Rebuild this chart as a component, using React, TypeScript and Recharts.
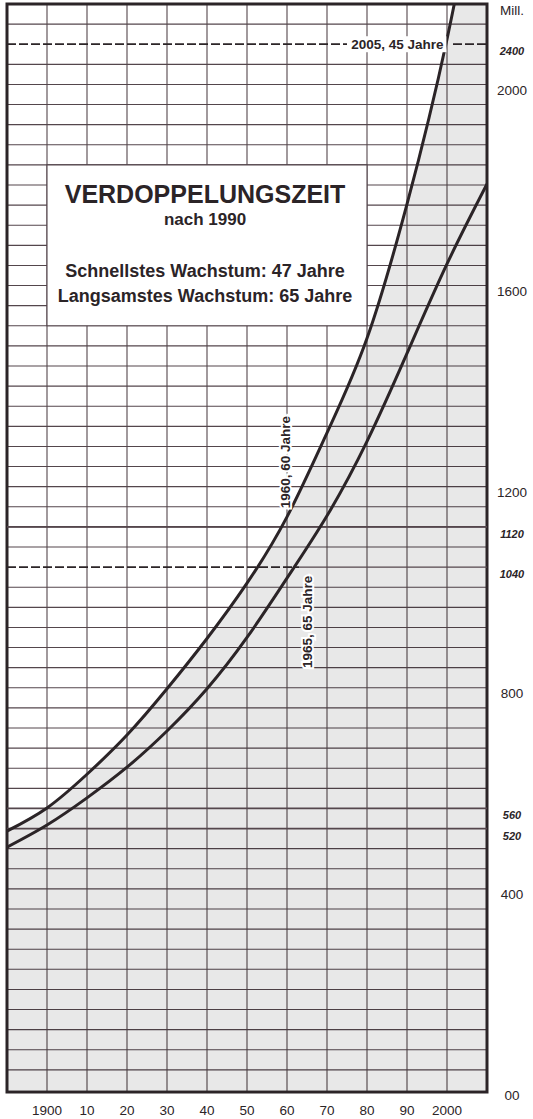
import React from 'react';
import {
  ComposedChart,
  Area,
  Line,
  XAxis,
  YAxis,
  CartesianGrid,
  ReferenceLine,
  ReferenceArea,
  ReferenceDot,
} from 'recharts';

// Weltbevölkerung (Mill.) – zwei Wachstumskurven
const years = [1890, 1900, 1910, 1920, 1930, 1940, 1950, 1960, 1970, 1980, 1990, 2000, 2010];
const fastest = [515, 561, 628, 706, 798, 898, 1008, 1140, 1307, 1495, 1762, 2090, 2500];
const slowest = [483, 527, 581, 642, 714, 798, 900, 1018, 1142, 1290, 1465, 1643, 1802];

const xTicks = [1900, 1910, 1920, 1930, 1940, 1950, 1960, 1970, 1980, 1990, 2000];
const xTickLabels = ['1900', '10', '20', '30', '40', '50', '60', '70', '80', '90', '2000'];

const yTicks = [0, 400, 800, 1200, 1600, 2000, 2160];
const yTickLabels = ['00', '400', '800', '1200', '1600', '2000', 'Mill.'];

// kursive Markierungen rechts
const markValues = [520, 560, 1040, 1120, 2080];
const markLabels = ['520', '560', '1040', '1120', '2400'];

const data = years.map((year, i) => ({ year, fastest: fastest[i], slowest: slowest[i] }));

const INK = '#2b2427';
const GRID = '#54464c';
const FONT = "'Liberation Sans', Arial, Helvetica, sans-serif";

const gridRows = Array.from({ length: 53 }, (_, i) => (i + 1) * 40).filter(
  (v) => v !== 1040 && v !== 2080
);

const XTick = ({ x, y, payload }: any) => {
  const i = xTicks.indexOf(payload.value);
  return (
    <text x={x} y={y + 23} textAnchor="middle" fontSize={13.5} fontFamily={FONT} fill={INK}>
      {xTickLabels[i]}
    </text>
  );
};

const YTick = ({ x, y, payload }: any) => {
  const v = payload.value;
  const mi = markValues.indexOf(v);
  if (mi >= 0) {
    return (
      <text x={x + 25} y={y + 11} textAnchor="middle" fontSize={11} fontStyle="italic"
        fontWeight="bold" fontFamily={FONT} fill={INK}>
        {markLabels[mi]}
      </text>
    );
  }
  const i = yTicks.indexOf(v);
  return (
    <text x={x + 25} y={y + 10.5} textAnchor="middle" fontSize={13.5} fontFamily={FONT} fill={INK}>
      {yTickLabels[i]}
    </text>
  );
};

const BoxText = ({ viewBox }: any) => {
  const cx = viewBox.x + viewBox.width / 2 - 2;
  const top = viewBox.y;
  const common = { textAnchor: 'middle' as const, fontFamily: FONT, fontWeight: 'bold' as const, fill: INK };
  return (
    <g>
      <text x={cx} y={top + 38} fontSize={25} {...common}>VERDOPPELUNGSZEIT</text>
      <text x={cx} y={top + 60} fontSize={17} {...common}>nach 1990</text>
      <text x={cx} y={top + 112} fontSize={18} {...common}>Schnellstes Wachstum: 47 Jahre</text>
      <text x={cx} y={top + 137} fontSize={18} {...common}>Langsamstes Wachstum: 65 Jahre</text>
    </g>
  );
};

const RotLabel = ({ viewBox, text }: any) => {
  const cx = viewBox.x + viewBox.width / 2;
  const cy = viewBox.y + viewBox.height / 2;
  return (
    <text x={cx} y={cy} transform={`rotate(-90 ${cx} ${cy})`} textAnchor="middle"
      dominantBaseline="central" fontSize={13.5} fontWeight="bold" fontFamily={FONT} fill={INK}
      stroke="#fff" strokeWidth={4} paintOrder="stroke">
      {text}
    </text>
  );
};

const BgLabel = ({ viewBox, text }: any) => {
  const cx = viewBox.x + viewBox.width / 2;
  const cy = viewBox.y + viewBox.height / 2;
  return (
    <g>
      <rect x={cx - 49} y={cy - 8} width={98} height={16} fill="#fff" />
      <text x={cx} y={cy} textAnchor="middle" dominantBaseline="central" fontSize={13.5}
        fontWeight="bold" fontFamily={FONT} fill={INK}>
        {text}
      </text>
    </g>
  );
};

export default function App() {
  return (
    <div style={{ position: 'absolute', left: 0, top: 0, background: '#fff' }}>
      <ComposedChart width={533} height={1119} data={data}
        margin={{ top: 4, right: 0, bottom: 0, left: 7 }}>
        <CartesianGrid stroke={GRID} strokeWidth={1.1}
          verticalValues={xTicks} horizontalValues={gridRows} />
        <XAxis dataKey="year" type="number" domain={[1890, 2010]} ticks={xTicks} interval={0}
          allowDataOverflow axisLine={false} tickLine={false} tickSize={0} tickMargin={0}
          height={27} tick={<XTick />} />
        <YAxis orientation="right" type="number" domain={[-4, 2160]} allowDataOverflow
          ticks={[...yTicks, ...markValues]} interval={0} axisLine={false} tickLine={false}
          tickSize={0} tickMargin={0} width={46} tick={<YTick />} />

        <Area dataKey="fastest" type="natural" stroke="none" fill="#000" fillOpacity={0.09}
          isAnimationActive={false} />

        {[520, 560, 1120].map((v) => (
          <ReferenceLine key={v} y={v} stroke={GRID} strokeWidth={1.8} />
        ))}
        <ReferenceLine segment={[{ x: 1890, y: 1040 }, { x: 1963, y: 1040 }]} stroke={INK}
          strokeWidth={1.8} strokeDasharray="9 3" />
        <ReferenceLine segment={[{ x: 1963, y: 1040 }, { x: 2010, y: 1040 }]} stroke={GRID}
          strokeWidth={1.1} />
        <ReferenceLine segment={[{ x: 1890, y: 2080 }, { x: 1975, y: 2080 }]} stroke={INK}
          strokeWidth={1.8} strokeDasharray="9 3" />
        <ReferenceLine segment={[{ x: 2001.5, y: 2080 }, { x: 2010, y: 2080 }]} stroke={INK}
          strokeWidth={1.8} strokeDasharray="9 3" />

        <ReferenceArea x1={1900} x2={1980} y1={1520} y2={1840} fill="#fff" fillOpacity={1}
          stroke={GRID} strokeWidth={1.1} label={<BoxText />} />

        <Line dataKey="fastest" type="natural" stroke={INK} strokeWidth={3} dot={false}
          isAnimationActive={false} />
        <Line dataKey="slowest" type="natural" stroke={INK} strokeWidth={3} dot={false}
          isAnimationActive={false} />

        <ReferenceDot x={1959.75} y={1249} r={0} stroke="none" fill="none"
          label={<RotLabel text="1960, 60 Jahre" />} />
        <ReferenceDot x={1965.25} y={931} r={0} stroke="none" fill="none"
          label={<RotLabel text="1965, 65 Jahre" />} />
        <ReferenceDot x={1987.6} y={2080} r={0} stroke="none" fill="none"
          label={<BgLabel text="2005, 45 Jahre" />} />

        <ReferenceArea x1={1890} x2={2010} y1={-4} y2={2160} fill="none" stroke={INK}
          strokeWidth={3} />
      </ComposedChart>
    </div>
  );
}
